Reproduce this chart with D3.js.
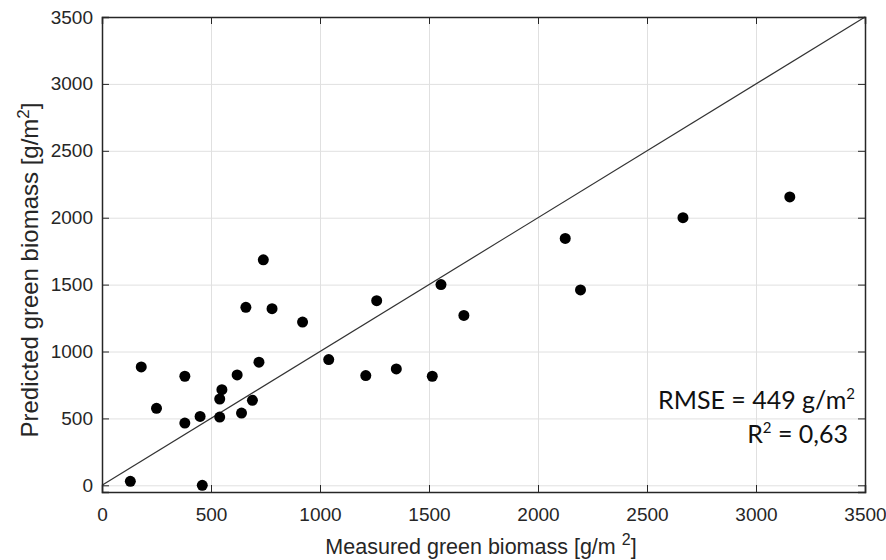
<!DOCTYPE html>
<html>
<head>
<meta charset="utf-8">
<script src="https://cdn.jsdelivr.net/npm/d3@7"></script>
<style>
  body { margin: 0; background: #fff; }
  .tick text { font-family: "Liberation Sans", Arial, sans-serif; fill: #262626; }
</style>
</head>
<body>
<div id="chart"></div>
<script>
// measured vs predicted green biomass (g/m2)
var measured = [130, 180, 250, 380, 380, 450, 460, 540, 550, 540, 640, 620, 690, 660, 720,
  740, 780, 920, 1040, 1210, 1260, 1350, 1515, 1555, 1660, 2125, 2195, 2665, 3155];
var predicted = [30, 885, 575, 815, 465, 515, 0, 645, 715, 510, 540, 825, 635, 1330, 920,
  1685, 1320, 1220, 940, 820, 1380, 870, 815, 1500, 1270, 1845, 1460, 2000, 2155];

var xTicks = [0, 500, 1000, 1500, 2000, 2500, 3000, 3500];
var yTicks = [0, 500, 1000, 1500, 2000, 2500, 3000, 3500];

var svgWidth = 886;
var svgHeight = 560;

var margin = {
  top: 17,
  right: 21,
  bottom: 68,
  left: 102
};
var width = svgWidth - margin.left - margin.right;
var height = svgHeight - margin.top - margin.bottom;

var svg = d3.select("#chart")
  .append("svg")
  .attr("width", svgWidth)
  .attr("height", svgHeight);

var chartGroup = svg.append("g")
  .attr("transform", `translate(${margin.left}, ${margin.top})`);

var xScale = d3.scaleLinear()
  .domain([0, 3500])
  .range([0, width]);

var yScale = d3.scaleLinear()
  .domain([-50, 3500])
  .range([height, 0]);

// grid
chartGroup.append("g")
  .attr("class", "grid")
  .attr("transform", `translate(0, ${height})`)
  .call(d3.axisBottom(xScale).tickValues(xTicks).tickSize(-height).tickFormat(""));
chartGroup.append("g")
  .attr("class", "grid")
  .call(d3.axisLeft(yScale).tickValues(yTicks).tickSize(-width).tickFormat(""));
chartGroup.selectAll(".grid .domain").remove();
chartGroup.selectAll(".grid line")
  .attr("stroke", "#e0e0e0")
  .attr("stroke-width", 1);

// 1:1 line
chartGroup.append("line")
  .attr("x1", xScale(0))
  .attr("y1", yScale(0))
  .attr("x2", xScale(3500))
  .attr("y2", yScale(3500))
  .attr("stroke", "#333")
  .attr("stroke-width", 1.2);

// points
chartGroup.selectAll("circle")
  .data(measured)
  .enter()
  .append("circle")
  .attr("cx", d => xScale(d))
  .attr("cy", (d, i) => yScale(predicted[i]))
  .attr("r", 5.5)
  .attr("fill", "#000");

// axes (ticks point inward, box on)
var fmt = d3.format("d");
var bottomAxis = chartGroup.append("g")
  .attr("transform", `translate(0, ${height})`)
  .call(d3.axisBottom(xScale).tickValues(xTicks).tickSize(-7).tickPadding(16).tickFormat(fmt));
var leftAxis = chartGroup.append("g")
  .call(d3.axisLeft(yScale).tickValues(yTicks).tickSize(-7).tickPadding(9).tickFormat(fmt));
var topAxis = chartGroup.append("g")
  .call(d3.axisTop(xScale).tickValues(xTicks).tickSize(-7).tickFormat(""));
var rightAxis = chartGroup.append("g")
  .attr("transform", `translate(${width}, 0)`)
  .call(d3.axisRight(yScale).tickValues(yTicks).tickSize(-7).tickFormat(""));

chartGroup.selectAll(".domain")
  .attr("stroke", "#262626")
  .attr("stroke-width", 1.5);
chartGroup.selectAll(".tick line")
  .filter(function() { return this.parentNode.parentNode.getAttribute("class") !== "grid"; })
  .attr("stroke", "#262626");
bottomAxis.selectAll("text").style("font-size", "19px");
leftAxis.selectAll("text").style("font-size", "19px");

// axis labels
var yLabel = chartGroup.append("text")
  .attr("transform", `translate(${38 - margin.left}, ${270 - margin.top}) rotate(-90)`)
  .attr("text-anchor", "middle")
  .style("font-family", "Liberation Sans, Arial, sans-serif")
  .style("font-size", "24px")
  .attr("fill", "#262626");
yLabel.append("tspan").text("Predicted green biomass [g/m");
yLabel.append("tspan").attr("font-size", "17px").attr("dy", "-9").text("2");
yLabel.append("tspan").attr("dy", "9").text("]");

var xLabel = chartGroup.append("text")
  .attr("x", 481 - margin.left)
  .attr("y", 554 - margin.top)
  .attr("text-anchor", "middle")
  .style("font-family", "Liberation Sans, Arial, sans-serif")
  .style("font-size", "21.5px")
  .attr("fill", "#262626");
xLabel.append("tspan").text("Measured green biomass [g/m ");
xLabel.append("tspan").attr("font-size", "16px").attr("dy", "-9").text("2");
xLabel.append("tspan").attr("dy", "9").text("]");

// stats
var rmse = chartGroup.append("text")
  .attr("x", 855 - margin.left)
  .attr("y", 409 - margin.top)
  .attr("text-anchor", "end")
  .style("font-family", "Lato, sans-serif")
  .style("font-size", "25px")
  .attr("fill", "#111");
rmse.append("tspan").text("RMSE = 449 g/m");
rmse.append("tspan").attr("font-size", "15px").attr("dy", "-10").text("2");

var r2 = chartGroup.append("text")
  .attr("x", 848 - margin.left)
  .attr("y", 443 - margin.top)
  .attr("text-anchor", "end")
  .style("font-family", "Lato, sans-serif")
  .style("font-size", "25px")
  .attr("fill", "#111");
r2.append("tspan").text("R");
r2.append("tspan").attr("font-size", "15px").attr("dy", "-10").text("2");
r2.append("tspan").attr("dy", "10").text(" = 0,63");
</script>
</body>
</html>
